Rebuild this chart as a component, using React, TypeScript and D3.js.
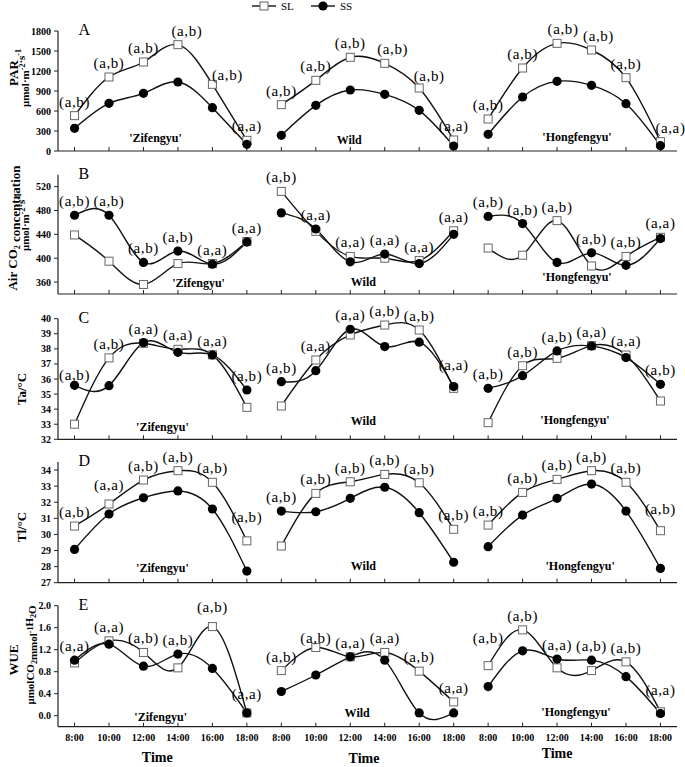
import * as d3 from 'd3';

// categories
const times = ['8:00', '10:00', '12:00', '14:00', '16:00', '18:00'];
const groups = ["'Zifengyu'", 'Wild', "'Hongfengyu'"];

// A: PAR (µmol m-2 s-1), one row per group
const parSL = [
  [530, 1110, 1335, 1595, 1000, 160],
  [695, 1060, 1405, 1315, 945, 165],
  [480, 1245, 1615, 1515, 1100, 140],
];
const parSS = [
  [340, 715, 865, 1035, 650, 100],
  [235, 685, 915, 850, 610, 75],
  [250, 810, 1045, 985, 710, 80],
];
const parSig = [
  ['(a,b)', '(a,b)', '(a,b)', '(a,b)', '(a,b)', '(a,a)'],
  ['(a,b)', '(a,b)', '(a,b)', '(a,b)', '(a,b)', '(a,a)'],
  ['(a,b)', '(a,b)', '(a,b)', '(a,b)', '(a,b)', '(a,a)'],
];

// B: air CO2
const co2SL = [
  [439, 395, 356, 391, 391, 428],
  [512, 445, 403, 400, 396, 446],
  [417, 405, 463, 387, 403, 435],
];
const co2SS = [
  [472, 472, 393, 412, 390, 427],
  [476, 449, 394, 407, 391, 440],
  [470, 458, 393, 409, 388, 433],
];
const co2Sig = [
  ['(a,b)', '(a,b)', '(a,b)', '(a,b)', '(a,a)', '(a,a)'],
  ['(a,b)', '(a,a)', '(a,a)', '(a,a)', '(a,a)', '(a,a)'],
  ['(a,b)', '(a,b)', '(a,b)', '(a,b)', '(a,b)', '(a,a)'],
];

// C: Ta
const taSL = [
  [33.0, 37.4, 38.37, 37.97, 37.6, 34.12],
  [34.21, 37.26, 38.92, 39.58, 39.25, 35.38],
  [33.1, 36.88, 37.37, 38.21, 37.59, 34.54],
];
const taSS = [
  [35.58, 35.56, 38.41, 37.77, 37.6, 35.27],
  [35.82, 36.55, 39.3, 38.15, 38.44, 35.5],
  [35.38, 36.22, 37.86, 38.19, 37.42, 35.65],
];
const taSig = [
  ['(a,b)', '(a,b)', '(a,a)', '(a,a)', '(a,a)', '(a,b)'],
  ['(a,b)', '(a,a)', '(a,a)', '(a,b)', '(a,b)', '(a,a)'],
  ['(a,b)', '(a,b)', '(a,b)', '(a,a)', '(a,a)', '(a,b)'],
];

// D: Tl
const tlSL = [
  [30.52, 31.89, 33.38, 33.96, 33.24, 29.6],
  [29.28, 32.55, 33.27, 33.73, 33.21, 30.32],
  [30.58, 32.61, 33.42, 33.96, 33.24, 30.23],
];
const tlSS = [
  [29.07, 31.27, 32.28, 32.7, 31.58, 27.72],
  [31.45, 31.41, 32.24, 32.93, 31.35, 28.27],
  [29.24, 31.2, 32.24, 33.13, 31.45, 27.89],
];
const tlSig = [
  ['(a,b)', '(a,a)', '(a,b)', '(a,b)', '(a,b)', '(a,b)'],
  ['(a,b)', '(a,b)', '(a,b)', '(a,b)', '(a,b)', '(a,b)'],
  ['(a,b)', '(a,b)', '(a,b)', '(a,b)', '(a,b)', '(a,b)'],
];

// E: WUE
const wueSL = [
  [0.96, 1.36, 1.15, 0.87, 1.62, 0.05],
  [0.82, 1.24, 1.07, 1.15, 0.81, 0.25],
  [0.91, 1.56, 0.87, 0.82, 0.98, 0.07],
];
const wueSS = [
  [1.01, 1.3, 0.9, 1.12, 0.86, 0.05],
  [0.44, 0.74, 1.07, 1.01, 0.05, 0.05],
  [0.53, 1.18, 1.03, 1.01, 0.71, 0.04],
];
const wueSig = [
  ['(a,a)', '(a,a)', '(a,b)', '(a,b)', '(a,b)', '(a,a)'],
  ['(a,b)', '(a,b)', '(a,a)', '(a,a)', '(a,b)', '(a,a)'],
  ['(a,b)', '(a,b)', '(a,a)', '(a,b)', '(a,b)', '(a,a)'],
];

// tick values
const parTicks = [0, 300, 600, 900, 1200, 1500, 1800];
const co2Ticks = [360, 400, 440, 480, 520];
const taTicks = [32, 33, 34, 35, 36, 37, 38, 39, 40];
const tlTicks = [27, 28, 29, 30, 31, 32, 33, 34];
const wueTicks = [0, 0.4, 0.8, 1.2, 1.6, 2.0];

const W = 685;
const H = 767;
const FONT = "'Liberation Serif', 'Times New Roman', serif";

const keys = groups.flatMap((g) => times.map((t) => `${g}|${t}`));
const x = d3.scalePoint<string>().domain(keys).range([58, 677]).padding(0.48);
const step = x.step();
const xAt = (g: number, i: number) => x(keys[g * 6 + i]) as number;

type Panel = {
  letter: string;
  sl: number[][];
  ss: number[][];
  sig: string[][];
  domain: [number, number];
  range: [number, number];
  ticks: number[];
  fmt: (v: number) => string;
  // group caption placement: [index inside group, value]
  caption: [number, number][];
};

const panels: Panel[] = [
  { letter: 'A', sl: parSL, ss: parSS, sig: parSig, domain: [0, 1800], range: [151, 31], ticks: parTicks, fmt: d3.format('d'),
    caption: [[2.35, 135], [1.97, 105], [2.58, 150]] },
  { letter: 'B', sl: co2SL, ss: co2SS, sig: co2Sig, domain: [340, 540], range: [294, 174.7], ticks: co2Ticks, fmt: d3.format('d'),
    caption: [[3.6, 351], [2.38, 353], [2.58, 361]] },
  { letter: 'C', sl: taSL, ss: taSS, sig: taSig, domain: [32, 40], range: [439.3, 318.7], ticks: taTicks, fmt: d3.format('d'),
    caption: [[2.55, 32.55], [2.38, 32.95], [2.52, 33.0]] },
  { letter: 'D', sl: tlSL, ss: tlSS, sig: tlSig, domain: [27, 34.5], range: [582.7, 462], ticks: tlTicks, fmt: d3.format('d'),
    caption: [[2.55, 27.66], [2.38, 27.79], [2.67, 27.79]] },
  { letter: 'E', sl: wueSL, ss: wueSS, sig: wueSig, domain: [-0.2, 2.0], range: [726.7, 605.7], ticks: wueTicks, fmt: d3.format('.1f'),
    caption: [[2.5, -0.1], [2.2, -0.02], [2.55, 0.0]] },
];

// small hand nudges for significance labels: "panel-group-time" -> [dx, dy]
const nudge: Record<string, [number, number]> = {
  'A-0-3': [9, 0], 'A-0-4': [15, 5], 'A-1-3': [8, 0], 'A-1-4': [10, 2],
  'A-2-2': [6, 0], 'A-2-3': [7, 0], 'A-2-5': [10, 0],
  'C-0-0': [0, 4], 'C-1-5': [0, -8],
  'D-0-1': [0, -5], 'D-0-5': [0, -10], 'D-2-5': [0, -8],
  'E-0-4': [0, -6], 'E-0-5': [0, -5], 'E-1-1': [0, 4], 'E-2-0': [0, -14], 'E-2-5': [0, -8],
};

const line = d3.line<[number, number]>().curve(d3.curveNatural);

const Square = ({ cx, cy }: { cx: number; cy: number }) => (
  <rect x={cx - 4} y={cy - 4} width={8} height={8} fill="#fff" stroke="#666" strokeWidth={1} />
);

function PanelView({ p }: { p: Panel }) {
  const y = d3.scaleLinear().domain(p.domain).range(p.range);
  const y0 = p.range[0];
  return (
    <g>
      {/* axes */}
      <line x1={58} x2={677} y1={y0} y2={y0} stroke="#222" strokeWidth={1.2} />
      <line x1={58} x2={58} y1={p.range[0]} y2={p.range[1]} stroke="#222" strokeWidth={1.2} />
      {keys.map((k) => (
        <line key={k} x1={x(k)} x2={x(k)} y1={y0} y2={y0 - 4} stroke="#222" strokeWidth={1} />
      ))}
      {p.ticks.map((t) => (
        <g key={t}>
          <line x1={54} x2={58} y1={y(t)} y2={y(t)} stroke="#222" strokeWidth={1} />
          <text x={51} y={y(t) + 3.5} textAnchor="end" fontSize={10} fontWeight="bold">
            {p.fmt(t)}
          </text>
        </g>
      ))}
      <text x={x(keys[0])! + 4} y={p.range[1] + 4} fontSize={16}>
        {p.letter}
      </text>
      {/* curves */}
      {groups.map((_, g) => (
        <g key={g}>
          {[p.sl[g], p.ss[g]].map((vals, s) => (
            <path
              key={s}
              d={line(vals.map((v, i) => [xAt(g, i), y(v)]))!}
              fill="none"
              stroke="#111"
              strokeWidth={1.4}
            />
          ))}
        </g>
      ))}
      {groups.map((_, g) =>
        p.sl[g].map((v, i) => <Square key={`s${g}${i}`} cx={xAt(g, i)} cy={y(v)} />)
      )}
      {groups.map((_, g) =>
        p.ss[g].map((v, i) => <circle key={`c${g}${i}`} cx={xAt(g, i)} cy={y(v)} r={4.6} fill="#000" />)
      )}
      {/* significance labels */}
      {groups.map((_, g) =>
        p.sig[g].map((lab, i) => {
          const top = Math.min(y(p.sl[g][i]), y(p.ss[g][i]));
          const [dx, dy] = nudge[`${p.letter}-${g}-${i}`] || [0, 0];
          return (
            <text key={`l${g}${i}`} x={xAt(g, i) + dx} y={top - 9 + dy} textAnchor="middle" fontSize={15} letterSpacing={0.6}>
              {lab}
            </text>
          );
        })
      )}
      {/* group captions */}
      {groups.map((name, g) => (
        <text
          key={name}
          x={xAt(g, 0) + p.caption[g][0] * step}
          y={y(p.caption[g][1])}
          textAnchor="middle"
          fontSize={12}
          fontWeight="bold"
        >
          {name}
        </text>
      ))}
    </g>
  );
}

const sup = (s: string) => (
  <>
    <tspan dy={-4} fontSize={8}>{s}</tspan>
    <tspan dy={4}></tspan>
  </>
);
const sub = (s: string) => (
  <>
    <tspan dy={3} fontSize={8}>{s}</tspan>
    <tspan dy={-3}></tspan>
  </>
);

function YTitles() {
  const rot = (cx: number, cy: number) => `translate(${cx},${cy}) rotate(-90)`;
  return (
    <g fontWeight="bold" textAnchor="middle">
      <text transform={rot(18, 73)} fontSize={13}>PAR</text>
      <text transform={rot(29, 78)} fontSize={11}>
        μmol·m{sup('-2')}·s{sup('-1')}
      </text>
      <text transform={rot(17, 228)} fontSize={13}>
        Air CO{sub('2')} concentration
      </text>
      <text transform={rot(29, 222)} fontSize={11}>
        μmol·m{sup('-2')}·s{sup('-1')}
      </text>
      <text transform={rot(26, 389)} fontSize={13}>Ta/°C</text>
      <text transform={rot(26, 527)} fontSize={13}>Tl/°C</text>
      <text transform={rot(18, 660)} fontSize={13}>WUE</text>
      <text transform={rot(34, 655)} fontSize={11}>
        μmolCO{sub('2')}mmol{sup('-1')}H{sub('2')}O
      </text>
    </g>
  );
}

export default function App() {
  const bottom = panels[panels.length - 1].range[0];
  return (
    <svg
      width={W}
      height={H}
      style={{ position: 'absolute', left: 0, top: 0, background: '#fff' }}
      fontFamily={FONT}
    >
      {/* legend */}
      <g fontSize={11}>
        <line x1={252} x2={276} y1={6} y2={6} stroke="#111" strokeWidth={1.4} />
        <Square cx={264} cy={6} />
        <text x={281} y={10}>SL</text>
        <line x1={311} x2={335} y1={6} y2={6} stroke="#111" strokeWidth={1.4} />
        <circle cx={323} cy={6} r={4.6} fill="#000" />
        <text x={340} y={10}>SS</text>
      </g>
      {panels.map((p) => (
        <PanelView key={p.letter} p={p} />
      ))}
      <YTitles />
      {/* x tick labels on the bottom panel */}
      {keys.map((k) => (
        <text key={k} x={x(k)} y={bottom + 14} textAnchor="middle" fontSize={10} fontWeight="bold">
          {k.split('|')[1]}
        </text>
      ))}
      {[[0, 2.4, 762], [1, 2.4, 763], [2, 2.0, 758]].map(([g, off, yy]) => (
        <text key={g} x={xAt(g, 0) + off * step} y={yy} textAnchor="middle" fontSize={14} fontWeight="bold">
          Time
        </text>
      ))}
    </svg>
  );
}
